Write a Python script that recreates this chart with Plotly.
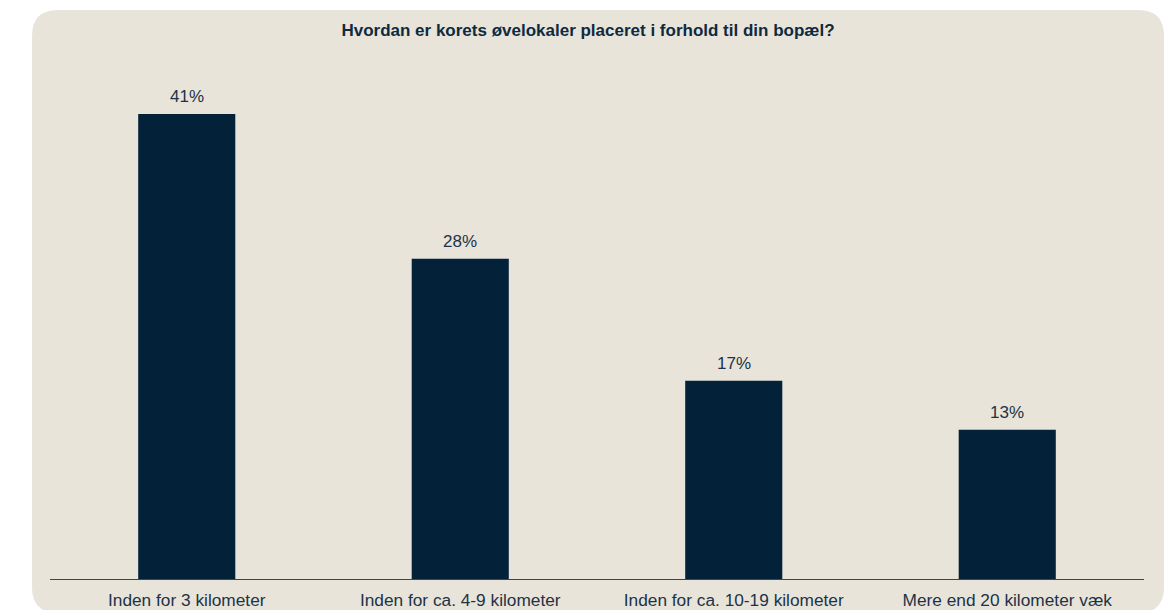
import plotly.graph_objects as go

categories = ["Inden for 3 kilometer", "Inden for ca. 4-9 kilometer",
              "Inden for ca. 10-19 kilometer", "Mere end 20 kilometer væk"]
values = [40.8, 28.1, 17.4, 13.1]
title = "Hvordan er korets øvelokaler placeret i forhold til din bopæl?"

W, H = 1166, 610
ml, mr, mt, mb = 50, 22, 60, 31
pw, ph = W - ml - mr, H - mt - mb

def px(x):
    return (x - ml) / pw

def py(y):
    return (H - mb - y) / ph

# rounded background rect in pixel terms converted to paper coords
x0, x1, y0, y1, r = 32, 1164, 10, 613, 26
rx, ry = r / pw, r / ph
X0, X1, Yt, Yb = px(x0), px(x1), py(y0), py(y1)
path = (f"M {X0+rx},{Yt} L {X1-rx},{Yt} Q {X1},{Yt} {X1},{Yt-ry} "
        f"L {X1},{Yb+ry} Q {X1},{Yb} {X1-rx},{Yb} "
        f"L {X0+rx},{Yb} Q {X0},{Yb} {X0},{Yb+ry} "
        f"L {X0},{Yt-ry} Q {X0},{Yt} {X0+rx},{Yt} Z")

FONT = "Liberation Sans, Arial, sans-serif"

fig = go.Figure(go.Bar(
    x=categories, y=values,
    marker=dict(color="#03223A", line=dict(width=0)),
    hoverinfo="skip",
))

annotations = [
    dict(x=c, y=v, xref="x", yref="y", text=f"{v:.0f}%", showarrow=False,
         yanchor="middle", yshift=17,
         font=dict(family=FONT, size=17, color="#1C3347"))
    for c, v in zip(categories, values)
]

fig.update_layout(
    width=W, height=H,
    margin=dict(l=ml, r=mr, t=mt, b=mb, pad=0),
    paper_bgcolor="white", plot_bgcolor="rgba(0,0,0,0)",
    bargap=0.645, showlegend=False,
    font=dict(family=FONT, color="#1C3347"),
    title=dict(text=f"<b>{title}</b>", x=px(588), xref="paper", xanchor="center",
               y=1 - 30 / H, yanchor="middle",
               font=dict(size=17, color="#0E2A40")),
    shapes=[dict(type="path", path=path, xref="paper", yref="paper",
                 fillcolor="#E8E4DA", line=dict(width=0), layer="below")],
    annotations=annotations,
    xaxis=dict(showline=True, linecolor="#2E4A5E", linewidth=1.2,
               ticks="outside", ticklen=5, tickcolor="rgba(0,0,0,0)",
               showgrid=False, zeroline=False, automargin=False,
               tickfont=dict(size=17.3, color="#1C3347")),
    yaxis=dict(range=[0, ph / 11.4], visible=False, showgrid=False,
               zeroline=False, automargin=False),
)

fig.write_html("out.html", config={"displayModeBar": False},
               post_script="document.body.style.margin='0';document.body.style.overflow='hidden';")
